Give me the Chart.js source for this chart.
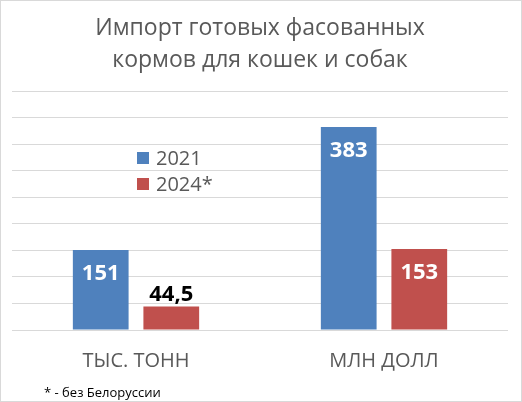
<!DOCTYPE html>
<html><head><meta charset="utf-8">
<script src="https://cdn.jsdelivr.net/npm/chart.js@4.4.0/dist/chart.umd.min.js"></script>
<style>html,body{margin:0;padding:0;background:#fff}#wrap{width:522px;height:402px;position:relative}</style>
</head><body><div id="wrap"><canvas id="c"></canvas></div>
<script>
const categories = ["ТЫС. ТОНН", "МЛН ДОЛЛ"];
const seriesNames = ["2021", "2024*"];
const values2021 = [151, 383];
const values2024 = [44.5, 153];
const titleLines = ["Импорт готовых фасованных", "кормов для кошек и собак"];
const footnote = "* - без Белоруссии";
const colors = ["#4f81bd", "#c0504d"];
const FONT = "'Open Sans', sans-serif";

const fmt = v => String(v).replace('.', ',');

const extras = {
  id: 'extras',
  afterDatasetsDraw(chart) {
    const ctx = chart.ctx;
    ctx.save();
    chart.data.datasets.forEach((ds, di) => {
      const meta = chart.getDatasetMeta(di);
      meta.data.forEach((bar, i) => {
        const h = bar.base - bar.y;
        ctx.font = "bold 22px " + FONT;
        ctx.textAlign = 'center';
        ctx.textBaseline = 'middle';
        if (h > 40) {
          ctx.fillStyle = '#ffffff';
          ctx.fillText(fmt(ds.data[i]), bar.x, bar.y + 24);
        } else {
          ctx.fillStyle = '#000000';
          ctx.fillText(fmt(ds.data[i]), bar.x, bar.y - 12);
        }
      });
    });
    // legend
    const lx = 137, ly = [158, 184];
    chart.data.datasets.forEach((ds, di) => {
      ctx.fillStyle = ds.backgroundColor;
      ctx.fillRect(lx, ly[di] - 6, 12, 12);
      ctx.fillStyle = '#595959';
      ctx.font = "20px " + FONT;
      ctx.textAlign = 'left';
      ctx.textBaseline = 'middle';
      ctx.fillText(ds.label, lx + 19, ly[di] + 1);
    });
    // footnote
    ctx.fillStyle = '#000000';
    ctx.font = "13px " + FONT;
    ctx.textAlign = 'left';
    ctx.textBaseline = 'alphabetic';
    ctx.fillText(footnote, 44, 397);
    // border
    ctx.strokeStyle = '#d9d9d9';
    ctx.lineWidth = 1;
    ctx.strokeRect(0.5, 0.5, chart.width - 1, chart.height - 1);
    ctx.restore();
  }
};

new Chart(document.getElementById('c'), {
  type: 'bar',
  data: {
    labels: categories,
    datasets: [
      { label: seriesNames[0], data: values2021, backgroundColor: colors[0] },
      { label: seriesNames[1], data: values2024, backgroundColor: colors[1] }
    ]
  },
  options: {
    responsive: true,
    maintainAspectRatio: false,
    animation: false,
    devicePixelRatio: 1,
    categoryPercentage: 0.569,
    barPercentage: 0.79,
    layout: { padding: { left: 12, right: 14, top: 0, bottom: 0 } },
    plugins: {
      legend: { display: false },
      tooltip: { enabled: false },
      title: {
        display: true,
        text: titleLines,
        color: '#595959',
        font: { family: FONT, size: 23, weight: 'normal', lineHeight: 1.4 },
        padding: { top: 12, bottom: 15 }
      }
    },
    scales: {
      x: {
        grid: { display: false, drawTicks: false },
        border: { display: false },
        ticks: { color: '#595959', font: { family: FONT, size: 20 }, padding: 19 },
        afterFit(s) { s.height = 72; }
      },
      y: {
        min: 0, max: 450,
        ticks: { display: false, stepSize: 50 },
        grid: { color: '#d9d9d9', drawTicks: false },
        border: { display: false },
        afterFit(s) { s.width = 0; }
      }
    }
  },
  plugins: [extras]
});
</script></body></html>
